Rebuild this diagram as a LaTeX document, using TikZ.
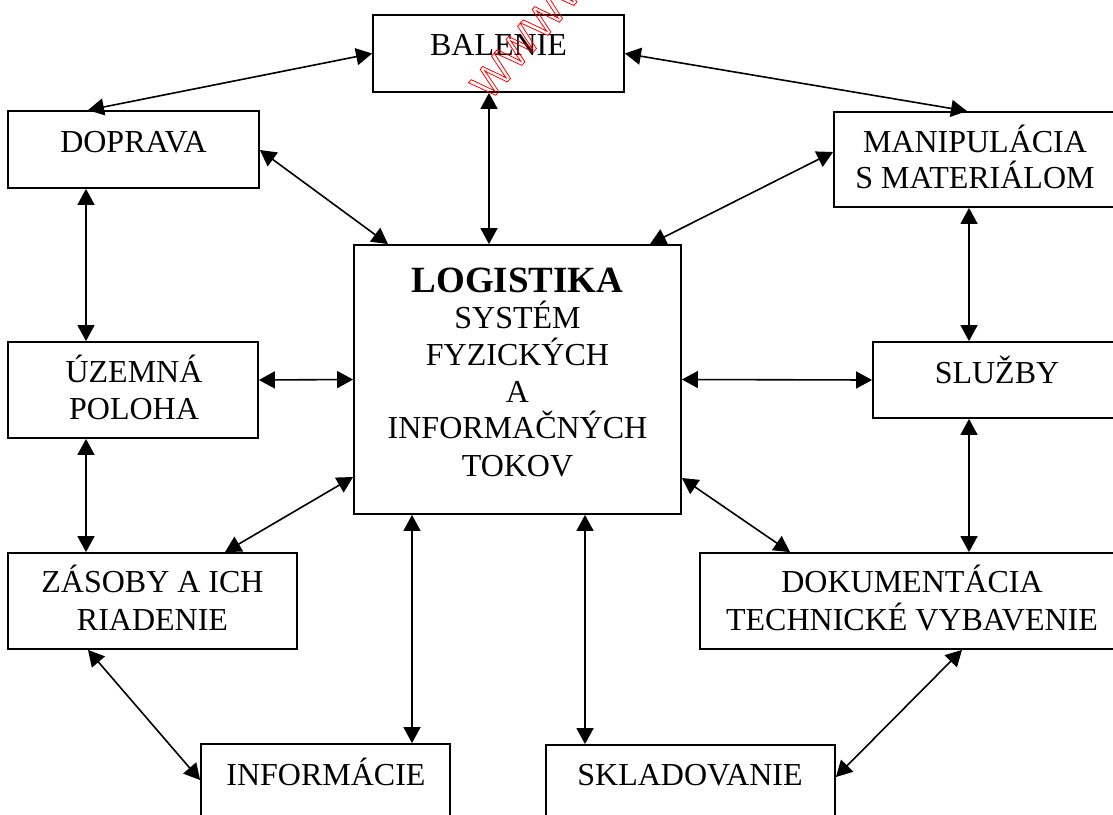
\documentclass[tikz,border=0pt]{standalone}
\usepackage{fontspec}
\setmainfont{Liberation Serif}
\newfontfamily\wmfont{Liberation Sans}
\usetikzlibrary{arrows.meta,calc}
\begin{document}
\begin{tikzpicture}[x=1pt,y=-1pt,
  box/.style={draw,line width=1.8pt,inner sep=0,fill=none},
  lbl/.style={inner sep=0,anchor=base,font=\fontsize{32}{36}\selectfont},
  big/.style={inner sep=0,anchor=base,font=\fontsize{37}{40}\selectfont\bfseries},
  arr/.style={{Triangle[length=16pt,width=17pt]}-{Triangle[length=16pt,width=17pt]},line width=1.6pt}]
\useasboundingbox (0,0) rectangle (1113,814);
\clip (0,0) rectangle (1113,814);
% boxes
\node[box,minimum width=251,minimum height=77] (bal) at (498.5,53.5) {};
\node[box,minimum width=251,minimum height=77] (dop) at (133.5,149.5) {};
\node[box,minimum width=287,minimum height=95] (man) at (977.5,159.5) {};
\node[box,minimum width=327,minimum height=269] (cen) at (517.5,379.5) {};
\node[box,minimum width=250,minimum height=96] (uz) at (133,390) {};
\node[box,minimum width=248,minimum height=76] (slu) at (997,380) {};
\node[box,minimum width=289,minimum height=96] (zas) at (152.5,601) {};
\node[box,minimum width=424,minimum height=96] (dok) at (912,601) {};
\node[box,minimum width=249,minimum height=90] (inf) at (325.5,789) {};
\node[box,minimum width=289,minimum height=90] (skl) at (690.5,790) {};
% texts
\node[lbl] (balT) at (498.5,55) {BALENIE};
\node[lbl] (dopT) at (133.5,152) {DOPRAVA};
\node[lbl] (manT1) at (975,152) {MANIPULÁCIA};
\node[lbl] (manT2) at (975,188) {S MATERIÁLOM};
\node[big] (cenT0) at (517.5,292) {LOGISTIKA};
\node[lbl] (cenT1) at (517.5,328) {SYSTÉM};
\node[lbl] (cenT2) at (517.5,365) {FYZICKÝCH};
\node[lbl] (cenT3) at (517.5,402) {A};
\node[lbl] (cenT4) at (517.5,438) {INFORMAČNÝCH};
\node[lbl] (cenT5) at (517.5,476) {TOKOV};
\node[lbl] (uzT1) at (134,382) {ÚZEMNÁ};
\node[lbl] (uzT2) at (134,419) {POLOHA};
\node[lbl] (sluT) at (997,383) {SLUŽBY};
\node[lbl] (zasT1) at (152.5,592) {ZÁSOBY A ICH};
\node[lbl] (zasT2) at (152.5,630) {RIADENIE};
\node[lbl] (dokT1) at (912,592) {DOKUMENTÁCIA};
\node[lbl] (dokT2) at (912,630) {TECHNICKÉ VYBAVENIE};
\node[lbl] (infT) at (326,785) {INFORMÁCIE};
\node[lbl] (sklT) at (690,785) {SKLADOVANIE};
% watermark
\node[inner sep=0,anchor=base west,rotate=49,text=red,font=\wmfont\fontsize{42}{42}\selectfont] (wm) at (490,102) {\special{pdf:code q 1 Tr 0.8 w}WWWW\special{pdf:code Q}};
% connectors
\draw[arr] (bal.west) -- ($(dop.north)+(-45.5,0)$);
\draw[arr] (bal.east) -- ($(man.north)+(-10.5,0)$);
\draw[arr] ($(bal.south)+(-9.5,0)$) -- ($(cen.north)+(-28.5,0)$);
\draw[arr] ($(dop.east)+(0,0.5)$) -- ($(cen.north)+(-129.5,0)$);
\draw[arr] ($(man.west)+(0,-7.5)$) -- ($(cen.north)+(132.5,0)$);
\draw[arr] ($(dop.south)+(-47.5,0)$) -- ($(uz.north)+(-47,0)$);
\draw[arr] ($(uz.east)+(0,-10)$) -- (cen.west);
\draw[arr] (cen.east) -- (slu.west);
\draw[arr] ($(man.south)+(-8.5,0)$) -- ($(slu.north)+(-28,0)$);
\draw[arr] ($(uz.south)+(-47,0)$) -- ($(zas.north)+(-66.5,0)$);
\draw[arr] ($(cen.west)+(0,97.5)$) -- ($(zas.north)+(72.5,0)$);
\draw[arr] ($(slu.south)+(-28,0)$) -- ($(dok.north)+(57,0)$);
\draw[arr] ($(cen.east)+(0,98.5)$) -- ($(dok.north)+(-122,0)$);
\draw[arr] ($(cen.south)+(-105.5,0)$) -- ($(inf.north)+(86.5,0)$);
\draw[arr] ($(cen.south)+(67.5,0)$) -- ($(skl.north)+(-105.5,0)$);
\draw[arr] ($(zas.south)+(-64.5,0)$) -- ($(inf.west)+(0,-9)$);
\draw[arr] ($(dok.south)+(50,0)$) -- ($(skl.east)+(0,-13)$);
\end{tikzpicture}
\end{document}
